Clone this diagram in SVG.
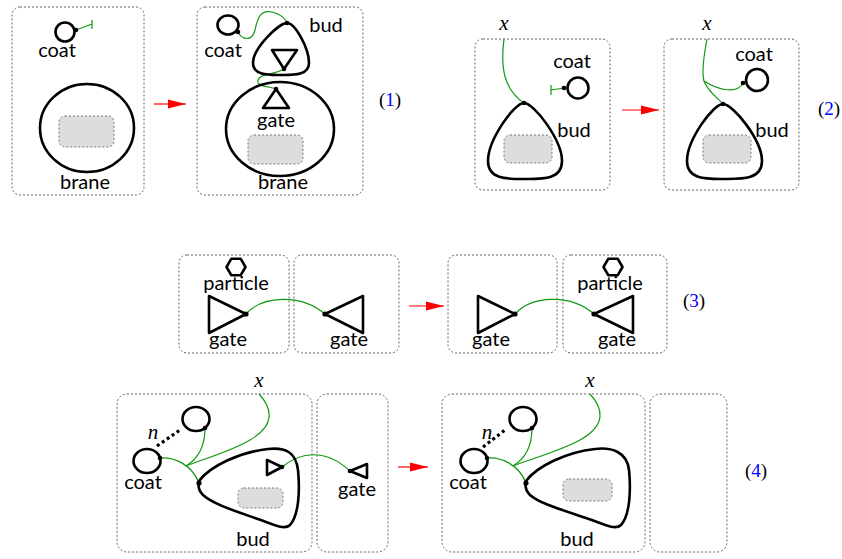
<svg xmlns="http://www.w3.org/2000/svg" width="842" height="559" viewBox="0 0 842 559">
<defs>
<style>
.box{fill:none;stroke:#666;stroke-width:1;stroke-dasharray:2 2}
.thick{fill:none;stroke:#000;stroke-width:2.6;stroke-linejoin:round}
.wire{fill:none;stroke:#119911;stroke-width:1.2}
.dot{fill:#000}
.gray{fill:#ddd;stroke:#777;stroke-width:1;stroke-dasharray:2 2}
.lbl{font-family:Lato,"Open Sans",sans-serif;font-size:20px;text-anchor:middle;fill:#000}
.math{font-family:"Liberation Serif",serif;font-style:italic;font-size:21px;text-anchor:middle;fill:#000}
.num{font-family:"Liberation Serif",serif;font-size:19px;text-anchor:middle;fill:#000}
.red{stroke:#f00;stroke-width:1.2;fill:none}
.dash{stroke:#000;stroke-width:3.2;stroke-dasharray:3 3;fill:none}
</style>
<marker id="arr" viewBox="0 0 18 10" refX="18" refY="5" markerWidth="18" markerHeight="10" markerUnits="userSpaceOnUse" orient="auto">
<path d="M0,0.5 L18,5 L0,9.5 Z" fill="#f00"/>
</marker>
</defs>

<!-- boxes -->
<g id="boxes">
<rect class="box" x="12" y="7" width="132" height="188" rx="8"/>
<rect class="box" x="197" y="7" width="166" height="188" rx="8"/>
<rect class="box" x="475" y="39" width="135" height="151" rx="8"/>
<rect class="box" x="664" y="39" width="135" height="151" rx="8"/>
<rect class="box" x="179" y="255" width="110" height="98" rx="8"/>
<rect class="box" x="294" y="255" width="105" height="98" rx="8"/>
<rect class="box" x="448" y="255" width="109" height="98" rx="8"/>
<rect class="box" x="563" y="255" width="104" height="98" rx="8"/>
<rect class="box" x="117" y="394" width="195" height="158" rx="10"/>
<rect class="box" x="317" y="394" width="71" height="158" rx="10"/>
<rect class="box" x="442" y="394" width="203" height="158" rx="10"/>
<rect class="box" x="650" y="394" width="77" height="158" rx="10"/>
</g>

<!-- connectors -->
<g id="connectors">
<path class="wire" d="M76,30 L92,24 M92,20 L92,29"/>
<path class="wire" d="M238,32 C242,40 252,42 255,30 C258,15 262,10 272,12 C280,14 285,18 287,23"/>
<path class="wire" d="M284,69 C275,75 260,73 258,80 C256,87 268,86 276,89"/>
<path class="wire" d="M504,39 C500,70 505,90 524,103"/>
<path class="wire" d="M564,88 L551,90 M551,85 L551,95"/>
<path class="wire" d="M707,39 C703,60 702,74 704,81 C708,92 718,98 723,104"/>
<path class="wire" d="M704,81 C715,88 736,96 743,83"/>
<path class="wire" d="M246,314 C262,296 300,293 325,314"/>
<path class="wire" d="M515,314 C531,296 570,293 594,314"/>
<path class="wire" d="M160,458 C175,457 192,465 199,483"/>
<path class="wire" d="M205,428 C205,448 196,460 186,466"/>
<path class="wire" d="M259,394 C272,408 276,425 250,440 C230,452 200,460 186,466"/>
<path class="wire" d="M282,467 C300,452 325,448 350,471"/>
<path class="wire" d="M487,458 C502,457 519,465 526,483"/>
<path class="wire" d="M532,428 C532,448 523,460 513,466"/>
<path class="wire" d="M590,394 C603,408 607,425 580,440 C558,452 527,460 513,466"/>
<line class="red" x1="154" y1="104" x2="186" y2="104" marker-end="url(#arr)"/>
<line class="red" x1="622" y1="110" x2="659" y2="110" marker-end="url(#arr)"/>
<line class="red" x1="409" y1="306" x2="444" y2="306" marker-end="url(#arr)"/>
<line class="red" x1="398" y1="467" x2="428" y2="467" marker-end="url(#arr)"/>
<line class="dash" x1="157" y1="446" x2="180" y2="430"/>
<line class="dash" x1="483" y1="447" x2="505" y2="430"/>
</g>

<!-- panel 1 -->
<g id="p1-coat">
<circle class="thick" cx="65" cy="32" r="9.5"/>
<circle class="dot" cx="76" cy="30" r="2.3"/>
<text class="lbl" x="57" y="57">coat</text>
</g>
<g id="p1-brane">
<ellipse class="thick" cx="87" cy="128" rx="47" ry="44"/>
<rect class="gray" x="59" y="116" width="55" height="31" rx="6"/>
<text class="lbl" x="85" y="189">brane</text>
</g>
<g id="p1r-coat">
<ellipse class="thick" cx="228" cy="25" rx="10.5" ry="9.5"/>
<circle class="dot" cx="238" cy="32" r="2.3"/>
<text class="lbl" x="223" y="57">coat</text>
</g>
<g id="p1r-bud">
<path class="thick" d="M287,23 C279,23 253,48 253,63 C253,76 270,75 281,75 C292,75 309,76 309,63 C309,48 295,23 287,23 Z"/>
<path class="thick" d="M272,50 L297,50 L284,69 Z"/>
<circle class="dot" cx="287" cy="23" r="2.3"/>
<circle class="dot" cx="284" cy="69" r="2.3"/>
<text class="lbl" x="326" y="32">bud</text>
</g>
<g id="p1r-brane">
<ellipse class="thick" cx="280" cy="129" rx="54" ry="47"/>
<path class="thick" d="M276,89 L289,108 L263,108 Z"/>
<circle class="dot" cx="276" cy="89" r="2.3"/>
<text class="lbl" x="276" y="127">gate</text>
<rect class="gray" x="248" y="135" width="55" height="29" rx="6"/>
<text class="lbl" x="283" y="189">brane</text>
</g>
<text class="num" x="390" y="106">(<tspan fill="#00f">1</tspan>)</text>

<!-- panel 2 -->
<g id="p2-x"><text class="math" x="504" y="30">x</text></g>
<g id="p2-coat">
<circle class="thick" cx="578" cy="88" r="10.5"/>
<circle class="dot" cx="564" cy="88" r="2.3"/>
<text class="lbl" x="572" y="68">coat</text>
</g>
<g id="p2-bud">
<path class="thick" d="M524,103 C514,103 488,140 488,161 C488,180 508,179 525,179 C542,179 562,180 562,161 C562,140 534,103 524,103 Z"/>
<rect class="gray" x="504" y="135" width="48" height="28" rx="6"/>
<circle class="dot" cx="524" cy="103" r="2.3"/>
<text class="lbl" x="574" y="137">bud</text>
</g>
<g id="p2r-x"><text class="math" x="707" y="30">x</text></g>
<g id="p2r-coat">
<circle class="thick" cx="757" cy="80" r="11"/>
<circle class="dot" cx="743" cy="83" r="2.3"/>
<text class="lbl" x="754" y="61">coat</text>
</g>
<g id="p2r-bud">
<path class="thick" d="M723,104 C713,104 687,140 687,161 C687,180 707,179 724,179 C741,179 762,180 762,161 C762,140 733,104 723,104 Z"/>
<rect class="gray" x="703" y="135" width="48" height="28" rx="6"/>
<circle class="dot" cx="723" cy="104" r="2.3"/>
<text class="lbl" x="772" y="137">bud</text>
</g>
<text class="num" x="829" y="115">(<tspan fill="#00f">2</tspan>)</text>

<!-- panel 3 -->
<g id="p3-particle1">
<polygon class="thick" points="226.5,267 231.25,258.8 240.75,258.8 245.5,267 240.75,275.2 231.25,275.2"/>
<text class="lbl" x="236" y="290">particle</text>
</g>
<g id="p3-gate1">
<path class="thick" d="M209,296 L209,333 L246,314 Z"/>
<circle class="dot" cx="246" cy="314" r="2.6"/>
<text class="lbl" x="228" y="346">gate</text>
</g>
<g id="p3-gate2">
<path class="thick" d="M325,314 L363,296 L363,333 Z"/>
<circle class="dot" cx="325" cy="314" r="2.6"/>
<text class="lbl" x="349" y="346">gate</text>
</g>
<g id="p3-gate3">
<path class="thick" d="M478,296 L478,333 L515,314 Z"/>
<circle class="dot" cx="515" cy="314" r="2.6"/>
<text class="lbl" x="491" y="346">gate</text>
</g>
<g id="p3-particle2">
<polygon class="thick" points="603.5,267 608.25,258.8 617.75,258.8 622.5,267 617.75,275.2 608.25,275.2"/>
<text class="lbl" x="610" y="290">particle</text>
</g>
<g id="p3-gate4">
<path class="thick" d="M594,314 L633,296 L633,333 Z"/>
<circle class="dot" cx="594" cy="314" r="2.6"/>
<text class="lbl" x="617" y="346">gate</text>
</g>
<text class="num" x="694" y="307">(<tspan fill="#00f">3</tspan>)</text>

<!-- panel 4 left -->
<g id="p4-x"><text class="math" x="259" y="387">x</text></g>
<g id="p4-coat-top">
<ellipse class="thick" cx="196" cy="419" rx="13.5" ry="12"/>
<circle class="dot" cx="205" cy="428" r="2.3"/>
</g>
<g id="p4-n"><text class="math" x="153" y="439">n</text></g>
<g id="p4-coat">
<ellipse class="thick" cx="147" cy="461" rx="13.5" ry="12"/>
<circle class="dot" cx="160" cy="458" r="2.3"/>
<text class="lbl" x="143" y="489">coat</text>
</g>
<g id="p4-bud">
<path class="thick" d="M199,481 C210,466 240,452 268,449 C285,447 296,452 298,470 C300,490 299,515 290,525 C284,531 270,523 255,518 C235,511 213,504 203,495 C198,490 198,485 199,481 Z"/>
<path class="thick" d="M267,460 L267,475 L282,467 Z"/>
<circle class="dot" cx="282" cy="467" r="2.3"/>
<rect class="gray" x="238" y="488" width="45" height="20" rx="6"/>
<circle class="dot" cx="199" cy="483" r="2.6"/>
<text class="lbl" x="253" y="546">bud</text>
</g>
<g id="p4-gate">
<path class="thick" d="M350,471 L367,464 L367,478 Z"/>
<circle class="dot" cx="350" cy="471" r="2.3"/>
<text class="lbl" x="357" y="496">gate</text>
</g>

<!-- panel 4 right -->
<g id="p4r-x"><text class="math" x="590" y="387">x</text></g>
<g id="p4r-coat-top">
<ellipse class="thick" cx="523" cy="419" rx="13.5" ry="12"/>
<circle class="dot" cx="532" cy="428" r="2.3"/>
</g>
<g id="p4r-n"><text class="math" x="487" y="439">n</text></g>
<g id="p4r-coat">
<ellipse class="thick" cx="474" cy="461" rx="13.5" ry="12"/>
<circle class="dot" cx="487" cy="458" r="2.3"/>
<text class="lbl" x="468" y="489">coat</text>
</g>
<g id="p4r-bud">
<path class="thick" transform="translate(327,0)" d="M199,481 C210,466 240,452 268,449 C285,447 300,452 302,470 C304,490 303,515 294,525 C288,531 274,523 259,518 C239,511 213,504 203,495 C198,490 198,485 199,481 Z"/>
<rect class="gray" x="563" y="479" width="49" height="22" rx="6"/>
<circle class="dot" cx="526" cy="483" r="2.6"/>
<text class="lbl" x="577" y="546">bud</text>
</g>
<text class="num" x="756" y="477">(<tspan fill="#00f">4</tspan>)</text>
</svg>
